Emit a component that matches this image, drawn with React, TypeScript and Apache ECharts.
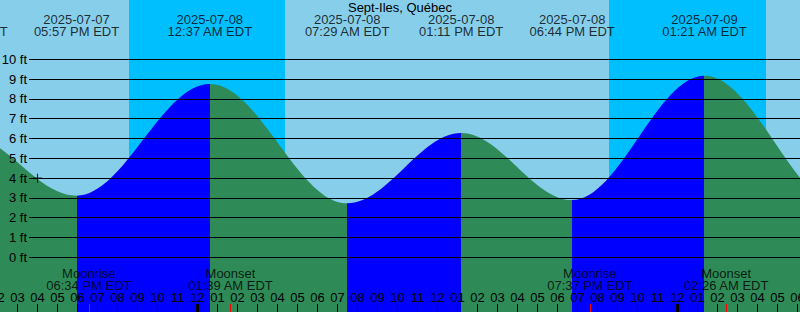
import React, { useEffect, useRef } from "react";
import * as echarts from "echarts";

// Hours are counted from 2025-07-08 00:00 EDT
const extremeTimes = [-18.3, -11.62, -6.05, 0.617, 7.483, 13.183, 18.733, 25.35, 32.33, 38.9];
const extremeHeights = [2.9, 6.2, 3.11, 8.75, 2.73, 6.28, 2.89, 9.17, 2.5, 6.3];

const eventTimes = [-11.62, -6.05, 0.617, 7.483, 13.183, 18.733, 25.35];
const eventDates = ["2025-07-07", "2025-07-07", "2025-07-08", "2025-07-08", "2025-07-08", "2025-07-08", "2025-07-09"];
const eventClock = ["12:22 PM EDT", "05:57 PM EDT", "12:37 AM EDT", "07:29 AM EDT", "01:11 PM EDT", "06:44 PM EDT", "01:21 AM EDT"];

const moonTimes = [-5.433, 1.65, 19.617, 26.433];
const moonKinds = ["Moonrise", "Moonset", "Moonrise", "Moonset"];
const moonClock = ["06:34 PM EDT", "01:39 AM EDT", "07:37 PM EDT", "02:26 AM EDT"];

const nightStart = [-3.425, 20.575];
const nightEnd = [4.375, 28.425];

const midnightTimes = [0, 24];

const nowTime = [-8.0];
const nowHeight = [4.0];

const heightTicks = [0, 10];

const TITLE = "Sept-Iles, Québec";

const FONT = "'Liberation Sans', Arial, sans-serif";
const SKY = "#87CEEB";
const NIGHT = "#00BFFF";
const RISING = "#0000FF";
const FALLING = "#2E8B57";

const X_MIN = -10;
const X_MAX = 31;
const Y_MIN = -2.763;
const Y_MAX = 13;

function hourLabel(v: number): string {
  const h = ((Math.round(v) % 12) + 12) % 12;
  return String(h === 0 ? 12 : h).padStart(2, "0");
}

function buildOption() {
  const tideData = extremeTimes.map((t, i) => [t, extremeHeights[i]]);
  const pieces: any[] = [];
  for (let i = 0; i < extremeTimes.length - 1; i++) {
    const piece: any = {
      lt: extremeTimes[i + 1],
      color: extremeHeights[i + 1] > extremeHeights[i] ? RISING : FALLING,
    };
    if (i > 0) piece.gte = extremeTimes[i];
    pieces.push(piece);
  }
  pieces.push({ gte: extremeTimes[extremeTimes.length - 1], color: RISING });

  const labelY = Y_MAX - 25.3 / (312 / (Y_MAX - Y_MIN));
  const moonY = Y_MAX - 279.7 / (312 / (Y_MAX - Y_MIN));

  const textBase = { color: "#000", fontSize: 13, fontFamily: FONT };

  const tickAxis = (values: number[], color: string, width: number) => ({
    type: "value",
    gridIndex: 0,
    position: "bottom",
    offset: 0,
    min: X_MIN,
    max: X_MAX,
    z: 7,
    axisLine: { show: false, onZero: false },
    splitLine: { show: false },
    axisLabel: { show: false },
    axisTick: { show: true, inside: true, length: 8, customValues: values, lineStyle: { color, width } },
  });

  return {
    animation: false,
    textStyle: { fontFamily: FONT },
    title: {
      text: TITLE,
      left: "center",
      top: 0,
      padding: [1, 0, 0, 0],
      textStyle: { ...textBase, fontWeight: "normal" },
    },
    grid: [
      {
        left: -2.5, right: -17.5, top: 0, bottom: 0,
        containLabel: false, outerBoundsMode: "none",
        show: true, backgroundColor: SKY, borderWidth: 0,
      },
      { left: 29, right: 0, top: 59.3, bottom: 54.7, containLabel: false, outerBoundsMode: "none" },
    ],
    visualMap: {
      type: "piecewise",
      show: false,
      dimension: 0,
      seriesIndex: 1,
      pieces,
    },
    xAxis: [
      {
        type: "value",
        gridIndex: 0,
        position: "bottom",
        offset: 0,
        min: X_MIN,
        max: X_MAX,
        interval: 1,
        z: 6,
        axisLine: { show: false, onZero: false },
        splitLine: { show: false },
        axisTick: { show: true, inside: true, length: 8, lineStyle: { color: "#000", width: 1 } },
        axisLabel: {
          show: true,
          inside: true,
          margin: 8,
          ...textBase,
          hideOverlap: false,
          showMinLabel: true,
          showMaxLabel: true,
          formatter: (v: number) => hourLabel(v),
        },
      },
      tickAxis(midnightTimes, "#000", 3),
      tickAxis(moonTimes, "#FF0000", 1),
      { type: "value", gridIndex: 1, min: 0, max: 1, show: false, axisLine: { onZero: false } },
    ],
    yAxis: [
      { type: "value", gridIndex: 0, min: Y_MIN, max: Y_MAX, show: false, axisLine: { onZero: false } },
      {
        type: "value",
        gridIndex: 1,
        position: "left",
        min: heightTicks[0],
        max: heightTicks[1],
        interval: 1,
        z: 5,
        axisLine: { show: false, onZero: false },
        axisTick: { show: false },
        axisLabel: { show: true, margin: 2, ...textBase, formatter: "{value} ft" },
        splitLine: { show: true, lineStyle: { color: "#000", width: 1 } },
      },
    ],
    series: [
      {
        type: "line",
        xAxisIndex: 0,
        yAxisIndex: 0,
        z: 1,
        silent: true,
        data: tideData,
        showSymbol: false,
        lineStyle: { opacity: 0, width: 0 },
        markArea: {
          silent: true,
          itemStyle: { color: NIGHT },
          data: nightStart.map((s, i) => [{ xAxis: s }, { xAxis: nightEnd[i] }]),
        },
      },
      {
        type: "line",
        xAxisIndex: 0,
        yAxisIndex: 0,
        z: 2,
        silent: true,
        data: tideData,
        smooth: 0.36,
        smoothMonotone: "x",
        showSymbol: false,
        lineStyle: { width: 0 },
        areaStyle: { opacity: 1, origin: "start" },
      },
      {
        type: "scatter",
        xAxisIndex: 0,
        yAxisIndex: 0,
        z: 8,
        silent: true,
        symbol: "path://M0,3.5h8v1h-8z M3.5,0h1v8h-1z",
        symbolSize: 9,
        itemStyle: { color: "#000" },
        data: nowTime.map((t, i) => [t, nowHeight[i]]),
      },
      {
        type: "scatter",
        xAxisIndex: 0,
        yAxisIndex: 0,
        z: 8,
        silent: true,
        clip: false,
        symbolSize: 1,
        itemStyle: { color: "transparent" },
        data: eventTimes.map((t) => [t, labelY]),
        label: {
          show: true,
          position: "inside",
          ...textBase,
          lineHeight: 12,
          formatter: (p: any) => eventDates[p.dataIndex] + "\n" + eventClock[p.dataIndex],
        },
      },
      {
        type: "scatter",
        xAxisIndex: 0,
        yAxisIndex: 0,
        z: 8,
        silent: true,
        clip: false,
        symbolSize: 1,
        itemStyle: { color: "transparent" },
        data: moonTimes.map((t) => [t, moonY]),
        label: {
          show: true,
          position: "inside",
          ...textBase,
          lineHeight: 12,
          formatter: (p: any) => moonKinds[p.dataIndex] + "\n" + moonClock[p.dataIndex],
        },
      },
    ],
  };
}

export default function App() {
  const ref = useRef<HTMLDivElement>(null);
  useEffect(() => {
    if (!ref.current) return;
    const chart = echarts.init(ref.current, null, { renderer: "svg", width: 800, height: 312 });
    chart.setOption(buildOption() as any);
    return () => chart.dispose();
  }, []);
  return (
    <div
      ref={ref}
      style={{ position: "absolute", left: 0, top: 0, width: 800, height: 312, overflow: "hidden" }}
    />
  );
}
